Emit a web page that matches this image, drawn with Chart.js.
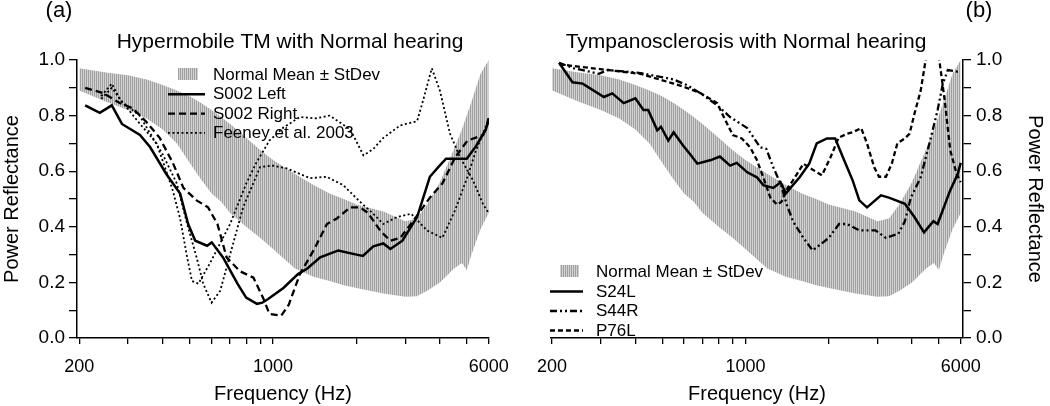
<!DOCTYPE html>
<html>
<head>
<meta charset="utf-8">
<script src="https://cdn.jsdelivr.net/npm/chart.js@4.4.1/dist/chart.umd.min.js"></script>
<style>
  body { margin: 0; background: #fff; }
  canvas { position: absolute; top: 0; }
  #chartA { left: 0; }
  #chartB { left: 525px; }
</style>
</head>
<body>
<canvas id="chartA" width="525" height="406"></canvas>
<canvas id="chartB" width="525" height="406"></canvas>
<script>
// ---- data ----
const xTicks = [200, 300, 400, 500, 600, 700, 800, 900, 1000, 2000, 3000, 4000, 5000, 6000];
const xLabels = [200, 1000, 6000];

// normal mean +/- stdev band (same in both panels)
const bandFreq  = [200, 250, 300, 350, 400, 450, 500, 550, 600, 650, 700, 800, 900, 1000, 1200, 1400, 1600, 1800, 2000, 2500, 3000, 3300, 3600, 4000, 4500, 4800, 5000, 5200, 5600, 6000];
const bandUpper = [0.97, 0.955, 0.945, 0.93, 0.91, 0.89, 0.87, 0.845, 0.82, 0.795, 0.77, 0.72, 0.675, 0.64, 0.59, 0.55, 0.52, 0.50, 0.48, 0.455, 0.42, 0.43, 0.48, 0.56, 0.68, 0.75, 0.80, 0.85, 0.95, 1.0];
const bandLower = [0.89, 0.85, 0.82, 0.79, 0.75, 0.70, 0.63, 0.57, 0.52, 0.49, 0.45, 0.40, 0.36, 0.32, 0.25, 0.22, 0.205, 0.19, 0.18, 0.16, 0.148, 0.15, 0.17, 0.20, 0.25, 0.27, 0.245, 0.30, 0.39, 0.45];

// panel (a)
const s002LeftFreq = [210, 237, 262, 285, 331, 360, 412, 462, 494, 524, 578, 601, 660, 745, 800, 875, 915, 960, 1090, 1230, 1330, 1480, 1720, 2000, 2110, 2300, 2500, 2650, 2930, 3310, 3680, 3990, 4210, 5000, 5400, 5860, 6000];
const s002LeftVals = [0.837, 0.81, 0.837, 0.77, 0.73, 0.687, 0.59, 0.52, 0.41, 0.35, 0.332, 0.344, 0.29, 0.195, 0.145, 0.123, 0.127, 0.14, 0.18, 0.23, 0.25, 0.29, 0.315, 0.30, 0.295, 0.33, 0.34, 0.32, 0.35, 0.435, 0.58, 0.62, 0.645, 0.645, 0.69, 0.75, 0.79];

const s002RightFreq = [210, 245, 280, 312, 350, 390, 435, 475, 530, 583, 630, 680, 760, 850, 920, 970, 1070, 1140, 1250, 1400, 1565, 1700, 1900, 2060, 2200, 2440, 2650, 2880, 3200, 3680, 4080, 4540, 5030, 5730, 6000];
const s002RightVals = [0.90, 0.88, 0.845, 0.826, 0.776, 0.72, 0.63, 0.54, 0.495, 0.47, 0.41, 0.29, 0.24, 0.217, 0.145, 0.087, 0.08, 0.12, 0.23, 0.315, 0.41, 0.43, 0.47, 0.47, 0.45, 0.385, 0.35, 0.36, 0.42, 0.505, 0.555, 0.65, 0.71, 0.73, 0.78];

const feeneyAFreq = [240, 262, 280, 325, 380, 412, 435, 462, 490, 510, 538, 570, 593, 700, 800, 870, 970, 1090, 1250, 1430, 1600, 1900, 2120, 2300, 2500, 2880, 3310, 3480, 3740, 4000, 4350, 4730, 5270, 5730, 6000];
const feeneyAVals = [0.87, 0.915, 0.86, 0.78, 0.70, 0.60, 0.53, 0.43, 0.29, 0.205, 0.195, 0.24, 0.27, 0.41, 0.555, 0.63, 0.71, 0.757, 0.795, 0.79, 0.80, 0.75, 0.657, 0.68, 0.72, 0.765, 0.78, 0.855, 0.97, 0.89, 0.735, 0.65, 0.567, 0.48, 0.45];

const feeneyBFreq = [240, 262, 285, 330, 400, 450, 490, 530, 560, 600, 645, 700, 780, 898, 1000, 1120, 1360, 1560, 1790, 2060, 2300, 2500, 2800, 3150, 3590, 4080, 4540, 5030, 5400, 5860, 6000];
const feeneyBVals = [0.86, 0.90, 0.85, 0.80, 0.66, 0.555, 0.41, 0.29, 0.195, 0.127, 0.17, 0.30, 0.47, 0.615, 0.62, 0.61, 0.575, 0.58, 0.55, 0.49, 0.447, 0.41, 0.435, 0.447, 0.387, 0.36, 0.46, 0.58, 0.675, 0.76, 0.79];

// panel (b)
const s24lFreq = [212, 237, 258, 308, 330, 363, 400, 428, 445, 480, 495, 526, 550, 594, 632, 670, 750, 808, 880, 930, 1015, 1100, 1160, 1260, 1340, 1400, 1455, 1570, 1700, 1810, 1970, 2110, 2250, 2440, 2580, 2750, 3090, 3300, 3770, 4080, 4420, 4780, 4950, 5490, 5850, 6000];
const s24lVals = [0.99, 0.92, 0.915, 0.867, 0.88, 0.845, 0.862, 0.82, 0.82, 0.747, 0.76, 0.71, 0.74, 0.693, 0.66, 0.627, 0.64, 0.653, 0.62, 0.63, 0.596, 0.578, 0.55, 0.54, 0.56, 0.52, 0.54, 0.578, 0.627, 0.70, 0.718, 0.718, 0.65, 0.567, 0.495, 0.47, 0.513, 0.505, 0.483, 0.435, 0.38, 0.42, 0.41, 0.53, 0.59, 0.63];

const s44rFreq = [212, 240, 276, 295, 318, 418, 550, 613, 690, 790, 880, 1015, 1130, 1190, 1260, 1340, 1410, 1485, 1620, 1750, 1830, 2000, 2180, 2330, 2580, 2950, 3220, 3570, 3770, 3960, 4300, 4650, 4950, 5170, 5390, 5700, 6000];
const s44rVals = [0.99, 0.97, 0.957, 0.95, 0.964, 0.953, 0.93, 0.91, 0.88, 0.837, 0.795, 0.755, 0.686, 0.68, 0.614, 0.555, 0.48, 0.42, 0.36, 0.315, 0.33, 0.36, 0.41, 0.41, 0.387, 0.387, 0.36, 0.375, 0.42, 0.505, 0.578, 0.71, 0.82, 0.915, 0.964, 0.96, 0.955];

const p76lFreq = [212, 255, 318, 418, 550, 613, 690, 790, 830, 900, 970, 1040, 1100, 1160, 1230, 1300, 1350, 1400, 1485, 1620, 1720, 1890, 2030, 2170, 2330, 2440, 2620, 2750, 2920, 3040, 3220, 3380, 3540, 3770, 3920, 4090, 4300, 4480, 4650, 5020, 5250, 5500, 5800, 6000];
const p76lVals = [0.985, 0.975, 0.964, 0.95, 0.915, 0.90, 0.88, 0.845, 0.80, 0.73, 0.718, 0.686, 0.64, 0.578, 0.505, 0.48, 0.49, 0.53, 0.567, 0.627, 0.61, 0.585, 0.65, 0.72, 0.735, 0.74, 0.755, 0.70, 0.614, 0.58, 0.58, 0.627, 0.70, 0.718, 0.735, 0.81, 0.89, 1.0, 1.06, 1.0, 0.855, 0.675, 0.59, 0.56];

// ---- helpers ----
const FONT = '"Liberation Sans", Arial, sans-serif';

function pts(freq, vals) {
  return freq.map((f, i) => ({ x: f, y: vals[i] }));
}

// vertical hatch used for the band
function makeHatch() {
  const c = document.createElement('canvas');
  c.width = 2; c.height = 2;
  const g = c.getContext('2d');
  g.fillStyle = '#d2d2d2'; g.fillRect(0, 0, 2, 2);
  g.fillStyle = '#a0a0a0'; g.fillRect(0, 0, 1, 2);
  return g.createPattern(c, 'repeat');
}

function bandSets(hatch) {
  return [
    { label: 'upper', data: pts(bandFreq, bandUpper), borderWidth: 0, pointRadius: 0,
      backgroundColor: hatch, fill: '+1', order: 10 },
    { label: 'lower', data: pts(bandFreq, bandLower), borderWidth: 0, pointRadius: 0,
      fill: false, order: 10 }
  ];
}

function lineSet(label, freq, vals, dash, width) {
  return { label: label, data: pts(freq, vals), borderColor: '#000', borderWidth: width,
    borderDash: dash, pointRadius: 0, fill: false, tension: 0, order: 1 };
}

// title, panel tag and inset legend
function decor(cfg) {
  return {
    id: 'decor',
    afterDraw(chart) {
      const ctx = chart.ctx;
      ctx.save();
      ctx.fillStyle = '#000';
      ctx.textAlign = 'center';
      ctx.textBaseline = 'alphabetic';
      ctx.font = '21px ' + FONT;
      ctx.fillText(cfg.title, cfg.titleX, 48);
      ctx.font = '22px ' + FONT;
      ctx.fillText(cfg.tag, cfg.tagX, 17);

      const lg = cfg.legend;
      ctx.font = '17px ' + FONT;
      ctx.textAlign = 'left';
      lg.items.forEach((it, i) => {
        const base = lg.y + i * lg.rowH;
        if (it.patch) {
          ctx.fillStyle = cfg.hatch;
          ctx.fillRect(lg.patchX, base - 12, lg.patchW, 12);
        } else {
          const ds = chart.data.datasets[it.ds];
          ctx.strokeStyle = '#000';
          ctx.lineWidth = ds.borderWidth;
          ctx.setLineDash(ds.borderDash || []);
          ctx.beginPath();
          ctx.moveTo(lg.lineX, base - 5);
          ctx.lineTo(lg.lineX + lg.lineW, base - 5);
          ctx.stroke();
          ctx.setLineDash([]);
        }
        ctx.fillStyle = '#000';
        ctx.fillText(it.label, lg.textX, base);
      });
      ctx.restore();
    }
  };
}

function makeOptions(side, xMin, xMax, yWidth, padding) {
  return {
    responsive: false,
    animation: false,
    layout: { padding: padding },
    plugins: { legend: { display: false }, tooltip: { enabled: false } },
    scales: {
      x: {
        type: 'logarithmic',
        min: xMin, max: xMax,
        afterBuildTicks: (s) => { s.ticks = xTicks.map(v => ({ value: v })); },
        afterFit: (s) => { s.height = 68; },
        grid: { drawOnChartArea: false, color: '#000', tickLength: 6, lineWidth: 1.3 },
        border: { color: '#000', width: 1.5 },
        ticks: {
          autoSkip: false, maxRotation: 0, padding: 12, color: '#000',
          font: { family: FONT, size: 18 },
          callback: (v) => xLabels.includes(v) ? String(v) : ''
        },
        title: { display: true, text: 'Frequency (Hz)', color: '#000',
          font: { family: FONT, size: 20 }, padding: 0 }
      },
      y: {
        position: side,
        min: 0, max: 1,
        afterFit: (s) => { s.width = yWidth; },
        grid: { drawOnChartArea: false, color: '#000', tickLength: 8, lineWidth: 1.3 },
        border: { color: '#000', width: 1.5 },
        ticks: {
          stepSize: 0.1, autoSkip: false, padding: side === 'left' ? 4 : 5, color: '#000',
          font: { family: FONT, size: 19 },
          callback: (v) => Math.round(v * 10) % 2 === 0 ? v.toFixed(1) : ''
        },
        title: { display: true, text: 'Power Reflectance', color: '#000',
          font: { family: FONT, size: 20 }, padding: side === 'left' ? 0 : { top: 3, bottom: 0 } }
      }
    }
  };
}

// ---- panel (a) ----
const ctxA = document.getElementById('chartA').getContext('2d');
const hatchA = makeHatch();
new Chart(ctxA, {
  type: 'line',
  data: {
    datasets: [
      ...bandSets(hatchA),
      lineSet('S002 Left', s002LeftFreq, s002LeftVals, [], 2.5),
      lineSet('S002 Right', s002RightFreq, s002RightVals, [7, 4], 2.3),
      lineSet('Feeney et al. 2003', feeneyAFreq, feeneyAVals, [2, 2.5], 1.8),
      lineSet('Feeney et al. 2003 (2)', feeneyBFreq, feeneyBVals, [2, 2.5], 1.8)
    ]
  },
  options: makeOptions('left', 196.2, 6015, 77, { left: 0, right: 36, top: 60, bottom: 0 }),
  plugins: [decor({
    title: 'Hypermobile TM with Normal hearing', titleX: 290, tag: '(a)', tagX: 59, hatch: hatchA,
    legend: { y: 80, rowH: 19.3, patchX: 178, patchW: 20, lineX: 168, lineW: 37, textX: 213,
      items: [
        { patch: true, label: 'Normal Mean \u00b1 StDev' },
        { ds: 2, label: 'S002 Left' },
        { ds: 3, label: 'S002 Right' },
        { ds: 4, label: 'Feeney et al. 2003' }
      ] }
  })]
});

// ---- panel (b) ----
const ctxB = document.getElementById('chartB').getContext('2d');
const hatchB = makeHatch();
new Chart(ctxB, {
  type: 'line',
  data: {
    datasets: [
      ...bandSets(hatchB),
      lineSet('S24L', s24lFreq, s24lVals, [], 2.5),
      lineSet('S44R', s44rFreq, s44rVals, [7, 3, 2, 3, 2, 3], 2.3),
      lineSet('P76L', p76lFreq, p76lVals, [5, 3], 2.3)
    ]
  },
  options: makeOptions('right', 198.3, 6114, 87, { left: 25, right: 0, top: 60, bottom: 0 }),
  plugins: [decor({
    title: 'Tympanosclerosis with Normal hearing', titleX: 221, tag: '(b)', tagX: 454, hatch: hatchB,
    legend: { y: 277, rowH: 19.5, patchX: 35, patchW: 19, lineX: 25, lineW: 33, textX: 71,
      items: [
        { patch: true, label: 'Normal Mean \u00b1 StDev' },
        { ds: 2, label: 'S24L' },
        { ds: 3, label: 'S44R' },
        { ds: 4, label: 'P76L' }
      ] }
  })]
});
</script>
</body>
</html>
